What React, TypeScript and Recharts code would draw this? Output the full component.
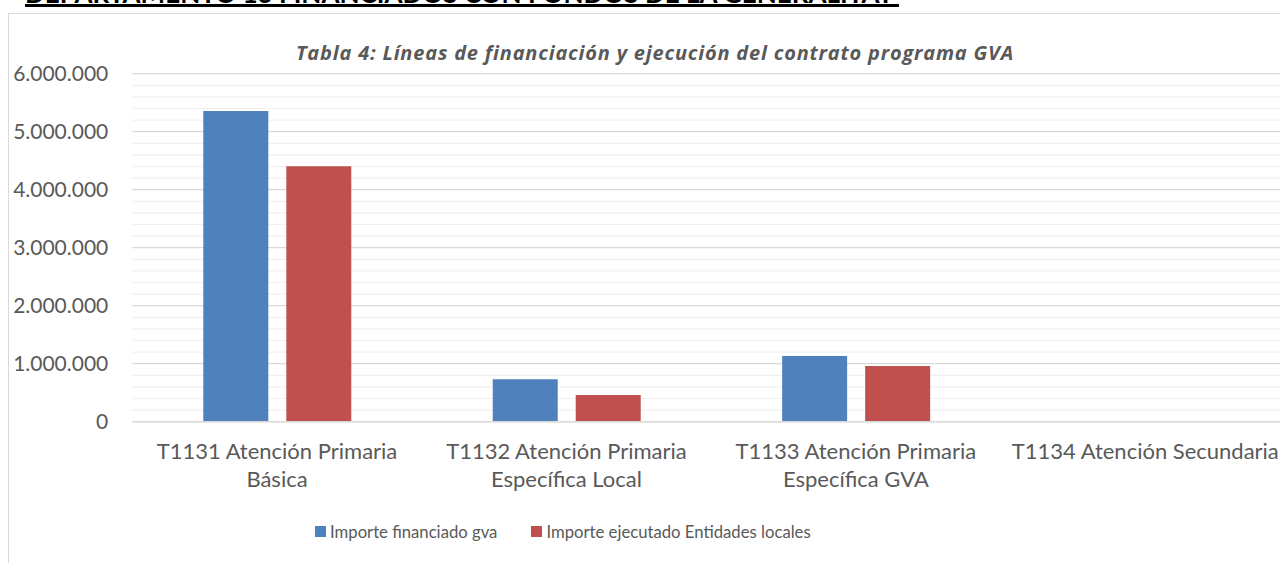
import React from 'react';
import { BarChart, Bar, XAxis, YAxis, CartesianGrid, Legend } from 'recharts';

const categories = [
  'T1131 Atención Primaria\nBásica',
  'T1132 Atención Primaria\nEspecífica Local',
  'T1133 Atención Primaria\nEspecífica GVA',
  'T1134 Atención Secundaria',
];
const financiadoGva = [5357000, 731000, 1133000, 0];
const ejecutadoEntidades = [4403000, 460000, 960000, 0];
const majorTicks = [0, 1000000, 2000000, 3000000, 4000000, 5000000, 6000000];
const minorTicks = [
  200000, 400000, 600000, 800000, 1200000, 1400000, 1600000, 1800000,
  2200000, 2400000, 2600000, 2800000, 3200000, 3400000, 3600000,
  3800000, 4200000, 4400000, 4600000, 4800000, 5200000, 5400000,
  5600000, 5800000,
];
const seriesNames = ['Importe financiado gva', 'Importe ejecutado Entidades locales'];
const seriesColors = ['#4F81BD', '#C0504D'];
const chartTitle = 'Tabla 4: Líneas de financiación y ejecución del contrato programa GVA';
const headerText = 'DEPARTAMENTO 13 FINANCIADOS CON FONDOS DE LA GENERALITAT';

const data = categories.map((c, i) => ({
  name: c,
  gva: financiadoGva[i],
  ejec: ejecutadoEntidades[i],
}));

const FONT = 'Lato, "Open Sans", sans-serif';
const TXT = '#595959';

const fmt = (v: number) => String(v).replace(/\B(?=(\d{3})+(?!\d))/g, '.');

const XTick = (props: any) => {
  const { x, y, payload } = props;
  const lines = String(payload.value).split('\n');
  return (
    <text x={x} y={y} textAnchor="middle" fill={TXT} style={{ fontFamily: FONT, fontSize: 22 }}>
      {lines.map((l, i) => (
        <tspan key={i} x={x} y={y + 37.5 + i * 27.7}>
          {l}
        </tspan>
      ))}
    </text>
  );
};

const LegendContent = (props: any) => {
  const { payload } = props;
  const items = [...(payload || [])].sort(
    (a: any, b: any) => seriesNames.indexOf(a.value) - seriesNames.indexOf(b.value)
  );
  return (
    <div
      style={{
        height: 30,
        display: 'flex',
        alignItems: 'center',
        paddingLeft: 315,
        fontFamily: FONT,
        fontSize: 16.7,
        color: TXT,
      }}
    >
      {items.map((p: any, i: number) => (
        <div key={i} style={{ display: 'flex', alignItems: 'center', marginRight: 34 }}>
          <span style={{ display: 'inline-block', width: 11, height: 11, background: p.color, marginRight: 4 }} />
          <span>{p.value}</span>
        </div>
      ))}
    </div>
  );
};

export default function App() {
  return (
    <div style={{ position: 'absolute', left: 0, top: 0, width: 1280, height: 563, overflow: 'hidden', background: '#fff' }}>
      <div
        style={{
          position: 'absolute',
          left: 25,
          top: -20.5,
          width: 874,
          height: 24,
          lineHeight: '26px',
          fontFamily: FONT,
          fontWeight: 700,
          fontSize: 26,
          color: '#000',
          whiteSpace: 'nowrap',
          overflow: 'hidden',
        }}
      >
        {headerText}
      </div>
      <div style={{ position: 'absolute', left: 25, top: 4, width: 874, height: 3, background: '#000' }} />
      <div
        style={{
          position: 'absolute',
          left: 8,
          top: 13,
          width: 1400,
          height: 700,
          border: '1px solid #d9d9d9',
          boxSizing: 'border-box',
        }}
      />
      <div
        style={{
          position: 'absolute',
          left: 0,
          top: 39,
          width: 1310,
          textAlign: 'center',
          fontFamily: '"Open Sans", sans-serif',
          fontWeight: 700,
          fontStyle: 'italic',
          fontSize: 20,
          letterSpacing: 0.8,
          color: TXT,
          whiteSpace: 'nowrap',
        }}
      >
        {chartTitle}
      </div>
      <div style={{ position: 'absolute', left: 0, top: 0 }}>
        <BarChart
          width={1290}
          height={563}
          data={data}
          margin={{ top: 73.7, right: 0, bottom: 16.3, left: 0 }}
          barGap={18}
        >
          <CartesianGrid
            yAxisId="major"
            vertical={false}
            stroke="#f0f0f0"
            strokeWidth={1.2}
            horizontalValues={minorTicks}
          />
          <CartesianGrid yAxisId="major" vertical={false} stroke="#d9d9d9" strokeWidth={1.3} />
          <XAxis
            dataKey="name"
            interval={0}
            height={95}
            tickLine={false}
            tickSize={0}
            tickMargin={0}
            axisLine={{ stroke: '#d9d9d9', strokeWidth: 1.5 }}
            tick={<XTick />}
          />
          <YAxis
            yAxisId="major"
            width={132.3}
            domain={[0, 6000000]}
            ticks={majorTicks}
            tickFormatter={fmt}
            axisLine={false}
            tickLine={false}
            tickSize={0}
            tickMargin={24}
            interval={0}
            tick={{ fill: TXT, fontSize: 21, fontFamily: FONT }}
          />
          <Legend verticalAlign="bottom" content={<LegendContent />} wrapperStyle={{ left: 0, width: 1290 }} />
          <Bar yAxisId="major" dataKey="gva" name={seriesNames[0]} fill={seriesColors[0]} barSize={65} isAnimationActive={false} />
          <Bar yAxisId="major" dataKey="ejec" name={seriesNames[1]} fill={seriesColors[1]} barSize={65} isAnimationActive={false} />
        </BarChart>
      </div>
    </div>
  );
}
